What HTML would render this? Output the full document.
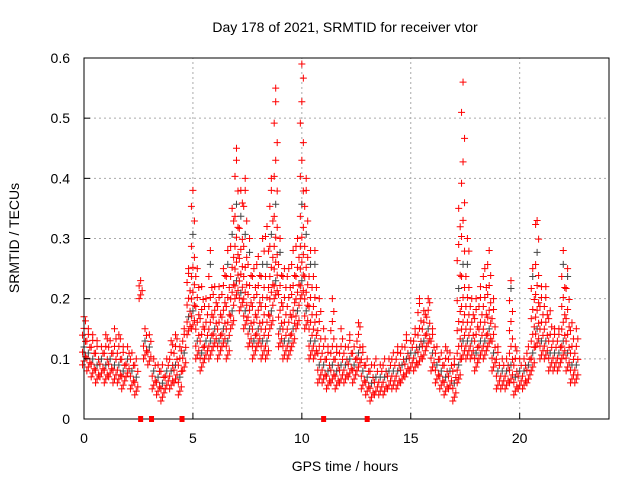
<!DOCTYPE html>
<html><head><meta charset="utf-8">
<style>
body{margin:0;background:#fff;}
svg{display:block;font-family:"Liberation Sans",sans-serif;}
</style></head>
<body>
<svg id="chart" width="640" height="480">
<text x="345" y="32" text-anchor="middle" font-size="14">Day 178 of 2021, SRMTID for receiver vtor</text>
<text x="345" y="471" text-anchor="middle" font-size="14">GPS time / hours</text>
<text transform="translate(19,238) rotate(-90)" text-anchor="middle" font-size="14">SRMTID / TECUs</text>
<g id="grid"></g><g id="marks"></g><g id="axes"></g>
</svg>
<script>
const xTicks=[0,5,10,15,20];
const yTicks=[0,0.1,0.2,0.3,0.4,0.5,0.6];
const yTickLabels=["0","0.1","0.2","0.3","0.4","0.5","0.6"];
const binStart=0, binStep=0.2;
const lowValues=[.09,.08,.07,.06,.07,.06,.07,.06,.06,.05,.07,.05,.04,.20,.10,.09,.05,.04,.03,.05,.05,.06,.04,.08,.14,.15,.10,.08,.10,.10,.12,.10,.12,.10,.15,.20,.18,.15,.12,.10,.12,.10,.10,.15,.20,.12,.10,.10,.12,.15,.20,.15,.10,.10,.06,.06,.05,.06,.05,.06,.06,.07,.06,.08,.05,.04,.03,.04,.04,.04,.05,.05,.05,.06,.07,.08,.08,.09,.10,.12,.08,.06,.05,.04,.05,.03,.06,.10,.10,.10,.08,.10,.10,.12,.08,.05,.05,.05,.06,.04,.05,.05,.06,.08,.12,.10,.10,.08,.08,.08,.10,.08,.06,.06];
const highValues=[.17,.15,.14,.13,.12,.14,.13,.15,.14,.12,.12,.11,.10,.23,.15,.14,.10,.09,.09,.10,.13,.14,.12,.15,.25,.38,.25,.22,.20,.28,.22,.22,.25,.28,.35,.45,.38,.40,.30,.25,.27,.30,.32,.40,.55,.30,.25,.25,.28,.30,.59,.40,.28,.28,.20,.15,.12,.20,.12,.15,.12,.14,.12,.16,.12,.10,.09,.10,.09,.10,.10,.11,.12,.12,.14,.13,.15,.20,.18,.20,.15,.12,.11,.12,.11,.10,.35,.56,.30,.20,.20,.22,.25,.28,.20,.12,.10,.10,.23,.12,.10,.10,.12,.25,.33,.22,.22,.18,.15,.15,.28,.25,.16,.15];
const gapHours=[2.6,3.1,4.5,11.0,13.0];
const X0=84,X1=609,Y0=419,Y1=58,XMAX=24.1,YMAX=0.6;
const sx=v=>X0+v/XMAX*(X1-X0);
const sy=v=>Y0-v/YMAX*(Y0-Y1);
const NS="http://www.w3.org/2000/svg";
function mk(t,a,p){const e=document.createElementNS(NS,t);for(const k in a)e.setAttribute(k,a[k]);p.appendChild(e);return e;}
const grid=document.getElementById('grid'),axes=document.getElementById('axes'),marks=document.getElementById('marks');
xTicks.forEach(t=>{
 if(t>0){const g=mk('line',{x1:sx(t),x2:sx(t),y1:Y0,y2:Y1,stroke:'#aaa','stroke-dasharray':'2,3'},grid);
 }
 mk('line',{x1:sx(t),x2:sx(t),y1:Y0,y2:Y0-6,stroke:'#000'},axes);
 const l=mk('text',{x:sx(t),y:Y0+24,'text-anchor':'middle','font-size':14},axes);l.textContent=t;
 
});
yTicks.forEach((t,i)=>{
 if(t>0&&t<YMAX){const g=mk('line',{x1:X0,x2:X1,y1:sy(t),y2:sy(t),stroke:'#aaa','stroke-dasharray':'2,3'},grid);
 }
 mk('line',{x1:X0,x2:X0+6,y1:sy(t),y2:sy(t),stroke:'#000'},axes);
 const l=mk('text',{x:X0-14,y:sy(t)+5,'text-anchor':'end','font-size':14},axes);l.textContent=yTickLabels[i];
 
});
const frame=mk('rect',{x:X0,y:Y1,width:X1-X0,height:Y0-Y1,fill:'none',stroke:'#000'},axes);

function plus(x,y,c){const p=mk('path',{d:`M${x-3.5},${y}h7M${x},${y-3.5}v7`,stroke:c,'stroke-width':1,fill:'none'},marks);
 }
lowValues.forEach((lo,i)=>{
 const hi=highValues[i];const h=binStart+i*binStep;
 const ylo=sy(lo),yhi=sy(hi);
 let k=0,step=3.5;
 for(let y=ylo;y>yhi+2;y-=step){plus(sx(h)+((k%3)-1)*1.5,y,k%9==4?'#444':'red');k++;step*=1.1;}
 plus(sx(h),yhi,'red');
});
gapHours.forEach(h=>{const r=mk('rect',{x:sx(h)-2.5,y:Y0-3,width:5,height:6,fill:'red'},axes);
 });
</script>
</body></html>
